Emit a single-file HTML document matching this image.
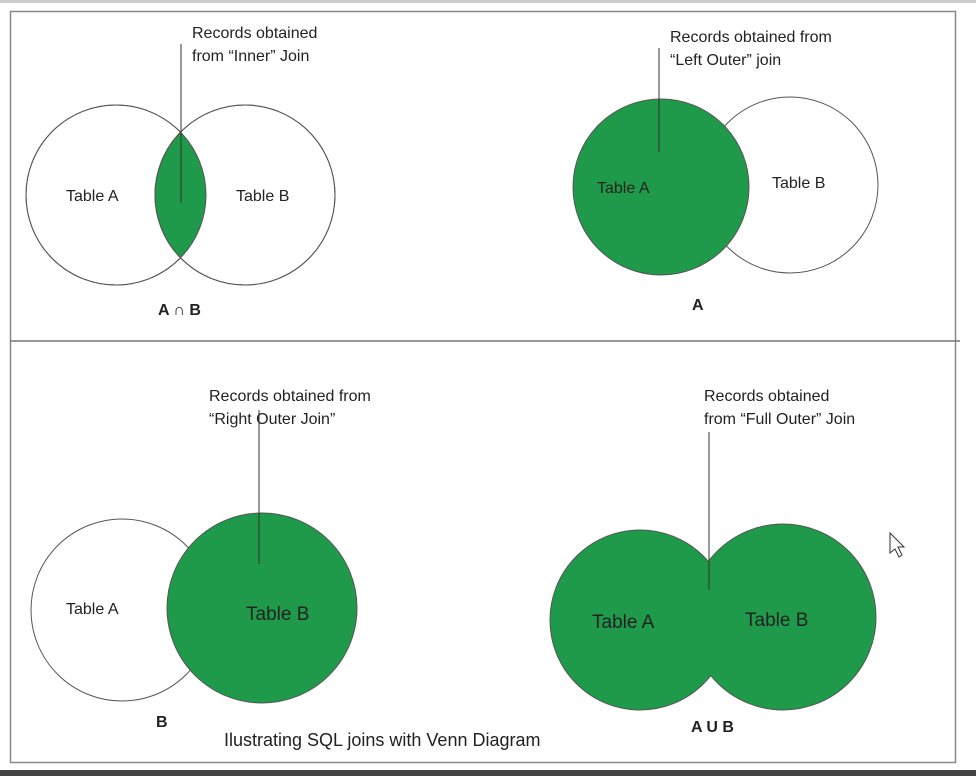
<!DOCTYPE html>
<html><head><style>
body{margin:0;background:#fff;width:976px;height:776px;overflow:hidden}
svg text{font-family:"Liberation Sans",sans-serif;fill:#222}
</style></head><body>
<svg width="976" height="776" xmlns="http://www.w3.org/2000/svg">
<rect x="0" y="0" width="976" height="776" fill="#fff"/>
<rect x="0" y="0" width="976" height="3" fill="#ccc"/>
<rect x="0" y="770" width="976" height="6" fill="#444"/>
<rect x="10.5" y="11.5" width="945" height="751" fill="none" stroke="#888" stroke-width="1.5"/>
<line x1="10" y1="341" x2="960" y2="341" stroke="#777" stroke-width="1.5"/>
<g stroke="#555" stroke-width="1">
<clipPath id="ca"><circle cx="116" cy="195" r="90"/></clipPath>
<circle cx="116" cy="195" r="90" fill="#fff"/>
<circle cx="245" cy="195" r="90" fill="#fff"/>
<circle cx="245" cy="195" r="90" fill="#1f9a4a" clip-path="url(#ca)"/>
<circle cx="116" cy="195" r="90" fill="none"/>
<circle cx="245" cy="195" r="90" fill="none"/>
<line x1="181" y1="44" x2="181" y2="203" stroke="#333"/>
<circle cx="790" cy="185" r="88" fill="#fff"/>
<circle cx="661" cy="187" r="88" fill="#1f9a4a"/>
<line x1="659" y1="48" x2="659" y2="152" stroke="#333"/>
<circle cx="122" cy="610" r="91" fill="#fff"/>
<circle cx="262" cy="608" r="95" fill="#1f9a4a"/>
<line x1="259" y1="410" x2="259" y2="564" stroke="#333"/>
<circle cx="640" cy="620" r="90" fill="#1f9a4a"/>
<circle cx="783" cy="617" r="93" fill="#1f9a4a"/>
<circle cx="640" cy="620" r="89.3" fill="#1f9a4a" stroke="none"/>
<circle cx="783" cy="617" r="92.3" fill="#1f9a4a" stroke="none"/>
<line x1="709" y1="432" x2="709" y2="590" stroke="#333"/>
</g>
<g font-size="16">
<text x="192" y="38">Records obtained</text>
<text x="192" y="61">from “Inner” Join</text>
<text x="66" y="201">Table A</text>
<text x="236" y="201">Table B</text>
<text x="158" y="315" font-weight="bold">A ∩ B</text>
<text x="670" y="42">Records obtained from</text>
<text x="670" y="65">“Left Outer” join</text>
<text x="597" y="193">Table A</text>
<text x="772" y="188">Table B</text>
<text x="692" y="310" font-weight="bold">A</text>
<text x="209" y="401">Records obtained from</text>
<text x="209" y="424">“Right Outer Join”</text>
<text x="66" y="614">Table A</text>
<text x="246" y="620" font-size="19">Table B</text>
<text x="156" y="727" font-weight="bold">B</text>
<text x="704" y="401">Records obtained</text>
<text x="704" y="424">from “Full Outer” Join</text>
<text x="592" y="628" font-size="19">Table A</text>
<text x="745" y="626" font-size="19">Table B</text>
<text x="691" y="732" font-weight="bold">A U B</text>
<text x="224" y="746" font-size="18">Ilustrating SQL joins with Venn Diagram</text>
</g>
<path d="M890 533 L890 553 L895 549 L899 557 L902 555 L898 547 L904 547 Z" fill="#fff" stroke="#333" stroke-width="1"/>
</svg>
</body></html>
